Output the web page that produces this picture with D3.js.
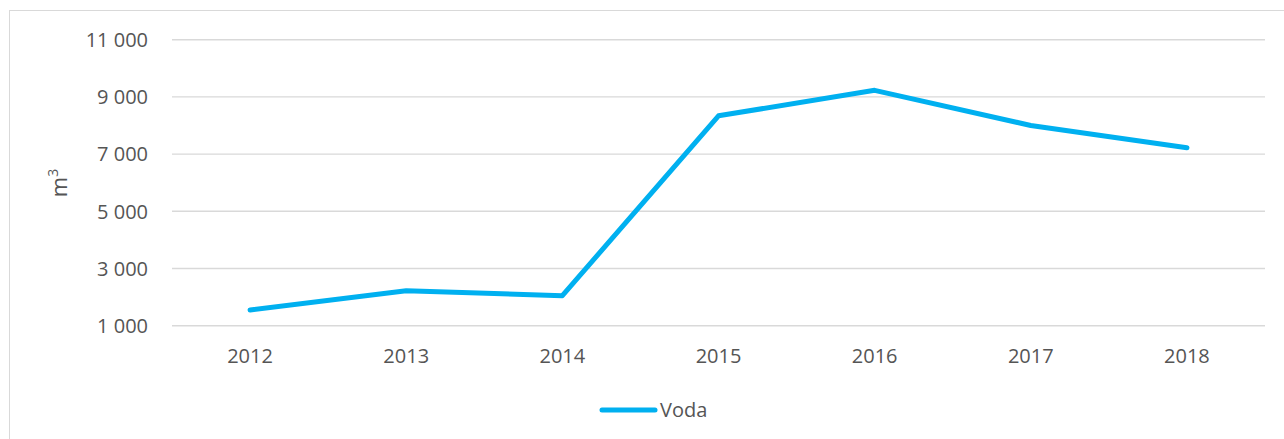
<!DOCTYPE html>
<html>
<head>
<meta charset="utf-8">
<script src="https://cdn.jsdelivr.net/npm/d3@7"></script>
<style>
  html, body { margin: 0; padding: 0; background: #fff; }
  svg { display: block; }
</style>
</head>
<body>
<svg id="mySVG" width="1284" height="439"></svg>
<script>
var years = ["2012", "2013", "2014", "2015", "2016", "2017", "2018"]
var voda = [1550, 2220, 2050, 8340, 9230, 8000, 7220]
var yTicks = [1000, 3000, 5000, 7000, 9000, 11000]
var seriesName = "Voda"

var FONT = "'Open Sans', 'Liberation Sans', sans-serif"
var TEXT_COL = "#555555"
var GRID_COL = "#d9d9d9"
var LINE_COL = "#00b0f0"

var MySVG = d3.select("#mySVG")

//---outer chart frame (runs off the right/bottom edge)---
MySVG.append("rect")
  .attr("x", 9.5)
  .attr("y", 10.5)
  .attr("width", 1400)
  .attr("height", 600)
  .attr("fill", "none")
  .attr("stroke", GRID_COL)
  .attr("stroke-width", 1)

var X = d3.scaleBand().domain(years).range([172, 1265]).padding(0)
var Y = d3.scaleLinear().domain([1000, 11000]).range([325.7, 39.7])
var cx = function(d) { return X(d) + X.bandwidth() / 2 }

//---gridlines---
var GridG = MySVG.append("g").attr("id", "gridG")
GridG.selectAll("line")
  .data(yTicks)
  .join("line")
  .attr("x1", 172)
  .attr("x2", 1265)
  .attr("y1", function(d) { return Y(d) })
  .attr("y2", function(d) { return Y(d) })
  .attr("stroke", GRID_COL)
  .attr("stroke-width", 1.4)

//---y axis labels---
var fmt = function(v) { return d3.format(",")(v).replace(/,/g, " ") }
MySVG.append("g")
  .selectAll("text")
  .data(yTicks)
  .join("text")
  .attr("x", 148)
  .attr("y", function(d) { return Y(d) })
  .attr("dy", "0.36em")
  .attr("text-anchor", "end")
  .attr("font-family", FONT)
  .attr("font-size", 20)
  .attr("fill", TEXT_COL)
  .text(fmt)

//---x axis labels---
MySVG.append("g")
  .selectAll("text")
  .data(years)
  .join("text")
  .attr("x", cx)
  .attr("y", 363)
  .attr("text-anchor", "middle")
  .attr("font-family", FONT)
  .attr("font-size", 20)
  .attr("fill", TEXT_COL)
  .text(function(d) { return d })

//---y title m3---
var yTitle = MySVG.append("text")
  .attr("transform", "translate(67,183) rotate(-90)")
  .attr("text-anchor", "middle")
  .attr("font-family", FONT)
  .attr("font-size", 22)
  .attr("fill", TEXT_COL)
yTitle.append("tspan").text("m")
yTitle.append("tspan")
  .attr("font-size", 14)
  .attr("dy", "-9")
  .text("3")

//---series line---
var lineGen = d3.line()
  .x(function(d, i) { return cx(years[i]) })
  .y(function(d) { return Y(d) })

MySVG.append("path")
  .datum(voda)
  .attr("d", lineGen)
  .attr("fill", "none")
  .attr("stroke", LINE_COL)
  .attr("stroke-width", 5)
  .attr("stroke-linejoin", "round")
  .attr("stroke-linecap", "round")

//---legend---
var LegG = MySVG.append("g").attr("id", "legendG")
LegG.append("line")
  .attr("x1", 602)
  .attr("x2", 655)
  .attr("y1", 410)
  .attr("y2", 410)
  .attr("stroke", LINE_COL)
  .attr("stroke-width", 5)
  .attr("stroke-linecap", "round")
LegG.append("text")
  .attr("x", 660)
  .attr("y", 417)
  .attr("font-family", FONT)
  .attr("font-size", 20)
  .attr("fill", TEXT_COL)
  .text(seriesName)
</script>
</body>
</html>
